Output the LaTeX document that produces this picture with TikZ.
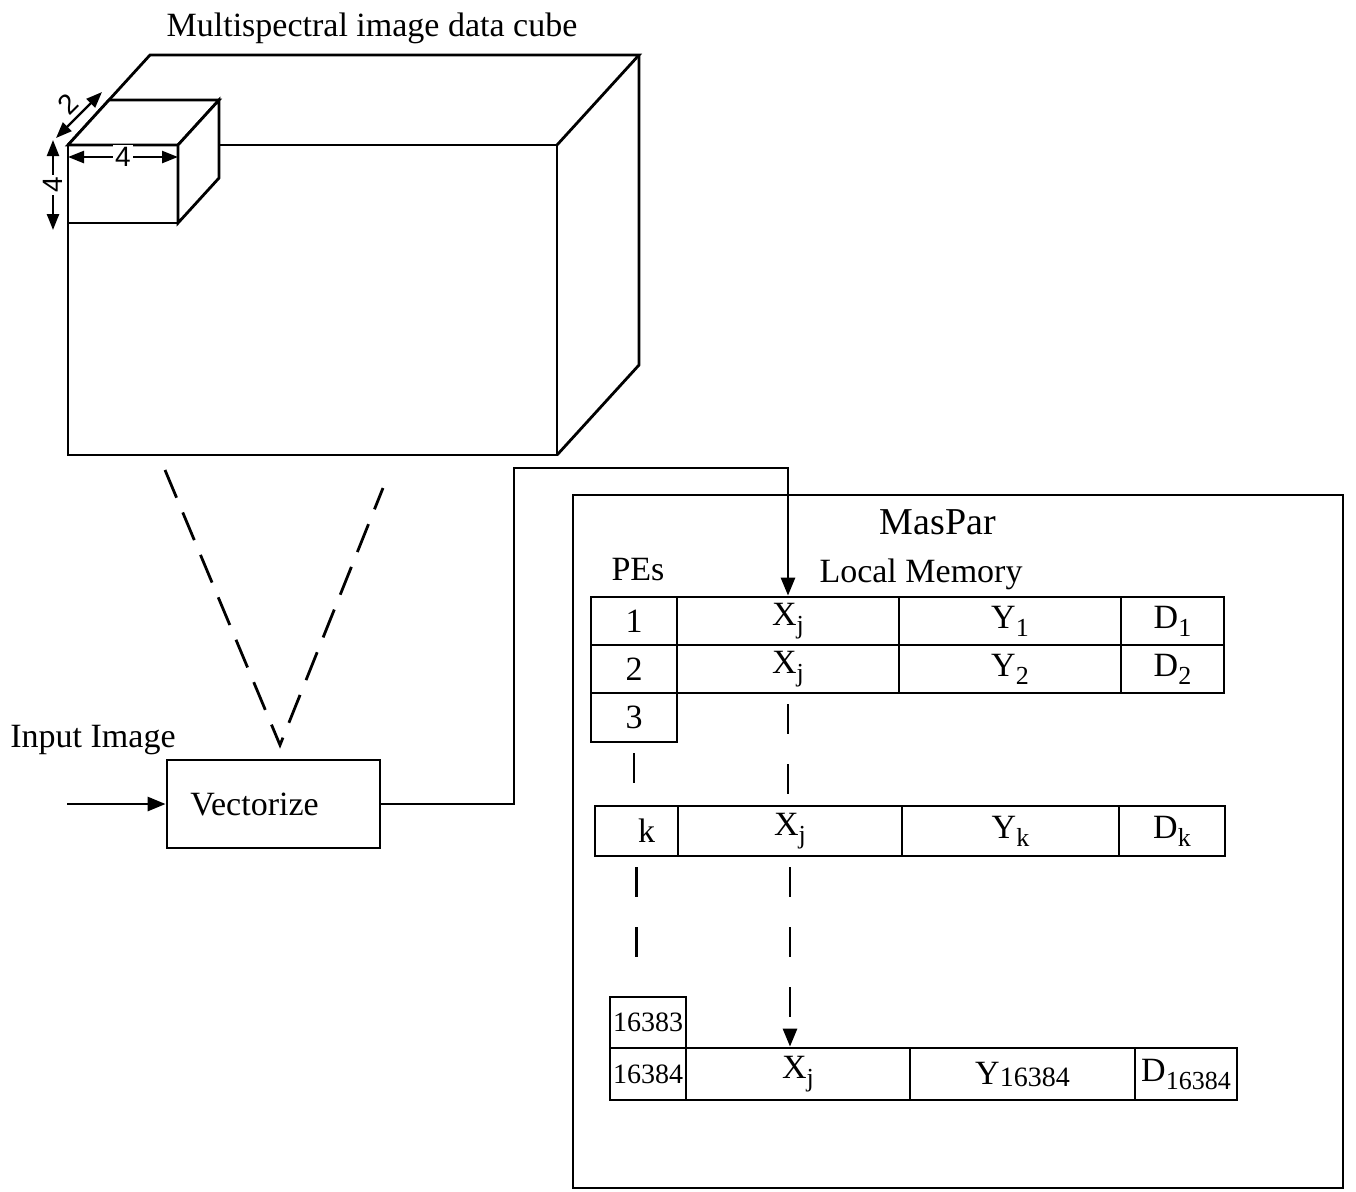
\documentclass[tikz,border=0pt]{standalone}
\usepackage{fontspec}
\setmainfont{Liberation Serif}
\newfontfamily\dimfont{Liberation Sans}
\usetikzlibrary{arrows.meta}

\newcommand{\sub}[1]{\raisebox{-4pt}{\fontsize{13}{13}\selectfont #1}}

\begin{document}
\begin{tikzpicture}[x=0.5pt, y=-0.5pt, line width=1.4pt,
  every node/.style={font=\fontsize{17}{20}\selectfont},
  cell/.style={draw, inner sep=0pt, minimum height=24pt},
  dims/.style={line width=1.2pt, <->, >={Triangle[width=6pt,length=8pt]}},
  dimlabel/.style={font=\dimfont\fontsize{14}{14}\selectfont, inner sep=1pt},
  gapline/.style={dash pattern=on 15pt off 15pt, dash phase=25pt},
  >={Triangle[width=7pt,length=9pt]}]
\useasboundingbox (0,0) rectangle (1356,1191);

% data cube
\node (title) at (372,28) {Multispectral image data cube};
\draw (68,145) rectangle (557,455);
\draw (68,145) -- (150,55) -- (639,55) -- (557,145);
\draw (557,455) -- (639,365) -- (639,55);
\draw[fill=white] (68,145) rectangle (178,223);
\draw[fill=white] (68,145) -- (109,100) -- (219,100) -- (178,145) -- cycle;
\draw[fill=white] (178,223) -- (219,178) -- (219,100) -- (178,145) -- cycle;
\draw[dims] (56,138) -- (102,92);
\node[dimlabel, rotate=45] (two) at (68,104) {2};
\draw[dims] (68,157) -- node[dimlabel, fill=white] (wide) {4} (178,157);
\draw[dims] (53,140) -- node[dimlabel, fill=white, rotate=90] (high) {4} (53,230);

% vectorize
\coordinate (vl) at (165,470);
\coordinate (vb) at (280,745);
\coordinate (vr) at (383,488);
\draw[dash pattern=on 15pt off 8pt] (vl) -- (vb) -- (vr);
\node (input) at (93,740) {Input Image};
\node[draw, minimum width=106.5pt, minimum height=44pt, inner sep=0pt] (vec) at (273.5,804) {Vectorize\hspace*{19pt}};
\coordinate (in) at (67,804);
\draw[->] (in) -- (vec.west);

% maspar
\draw (573,495) rectangle (1343,1188);
\node[font=\fontsize{19}{22}\selectfont] (maspar) at (938,522) {MasPar};
\node (pes) at (638,570) {PEs};
\node (mem) at (921,574) {Local Memory};

\node[cell, minimum width=43pt] (p1) at (634,621) {1};
\node[cell, minimum width=111pt] (x1) at (788,621) {X\sub{j}};
\node[cell, minimum width=111pt] (y1) at (1010,621) {Y\sub{1}};
\node[cell, minimum width=51.5pt] (d1) at (1172.5,621) {D\sub{1}};

\node[cell, minimum width=43pt] (p2) at (634,669) {2};
\node[cell, minimum width=111pt] (x2) at (788,669) {X\sub{j}};
\node[cell, minimum width=111pt] (y2) at (1010,669) {Y\sub{2}};
\node[cell, minimum width=51.5pt] (d2) at (1172.5,669) {D\sub{2}};

\node[cell, minimum width=43pt, minimum height=24.5pt] (p3) at (634,717.5) {3};

\node[cell, minimum width=41.5pt, minimum height=25pt] (pk) at (636.5,831) {\hspace*{10pt}k};
\node[cell, minimum width=112pt, minimum height=25pt] (xk) at (790,831) {X\sub{j}};
\node[cell, minimum width=108.5pt, minimum height=25pt] (yk) at (1010.5,831) {Y\sub{k}};
\node[cell, minimum width=53pt, minimum height=25pt] (dk) at (1172,831) {D\sub{k}};

\node[cell, minimum width=38pt, minimum height=25.5pt, font=\fontsize{14}{14}\selectfont] (p16383) at (648,1022.5) {16383};
\node[cell, minimum width=38pt, minimum height=26pt, font=\fontsize{14}{14}\selectfont] (pn) at (648,1074) {16384};
\node[cell, minimum width=112pt, minimum height=26pt] (xn) at (798,1074) {X\sub{j}};
\node[cell, minimum width=112.5pt, minimum height=26pt] (yn) at (1022.5,1074) {Y\raisebox{-1pt}{\fontsize{14}{14}\selectfont 16384}};
\node[cell, minimum width=51pt, minimum height=26pt] (dn) at (1186,1074) {D\sub{16384}};

\coordinate (pkend) at (640,970);
\draw[->] (vec.east) -| (514,468) -| (x1.north);
\draw[gapline] (p3.south) -- (p3.south |- pk.north);
\draw[gapline] (pk.south) -- (pk.south |- pkend);
\draw[gapline] (x2.south) -- (x2.south |- xk.north);
\draw[gapline, ->] (xk.south) -- (xk.south |- xn.north);
\end{tikzpicture}
\end{document}
